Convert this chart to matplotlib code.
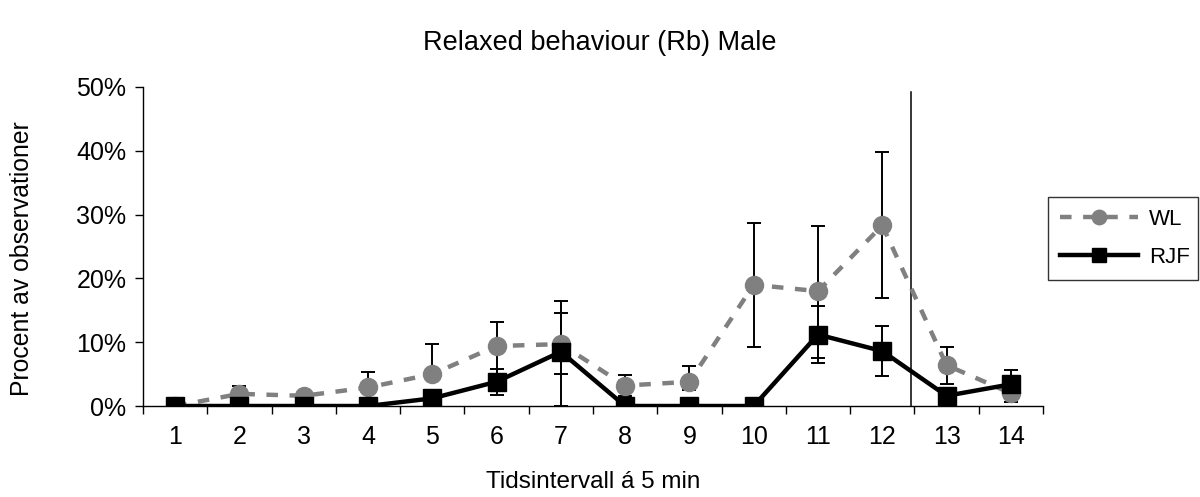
import matplotlib
matplotlib.use("Agg")
import matplotlib.pyplot as plt
from matplotlib.ticker import FuncFormatter, FixedLocator
import numpy as np

plt.rcParams['font.family'] = ['Liberation Sans', 'DejaVu Sans']

intervals = [1, 2, 3, 4, 5, 6, 7, 8, 9, 10, 11, 12, 13, 14]
tick_labels = [str(i) for i in intervals]

wl_mean = [0.0, 1.9, 1.6, 2.9, 5.0, 9.4, 9.7, 3.2, 3.8, 19.0, 18.0, 28.3, 6.4, 2.0]
wl_lo   = [0.0, 0.7, 0.4, 0.5, 0.3, 5.6, 9.7, 1.7, 1.3, 9.7, 10.4, 11.4, 2.9, 1.4]
wl_hi   = [0.0, 1.2, 0.3, 2.4, 4.7, 3.8, 6.8, 1.6, 2.5, 9.7, 10.2, 11.5, 2.9, 0.5]

rjf_mean = [0.0, 0.0, 0.0, 0.0, 1.2, 3.8, 8.5, 0.0, 0.0, 0.0, 11.2, 8.6, 1.6, 3.4]
rjf_lo   = [0.0, 0.0, 0.0, 0.0, 0.0, 2.1, 3.5, 0.0, 0.0, 0.0, 4.5, 3.9, 0.0, 2.7]
rjf_hi   = [0.0, 0.0, 0.0, 0.0, 0.0, 2.0, 6.0, 0.0, 0.0, 0.0, 4.5, 3.9, 0.0, 2.2]

divider_pos = 12.44
divider_top = 49.2

fig = plt.figure(figsize=(12, 4.97), dpi=100)
ax = fig.add_axes([143/1200, 1-406/497, 900/1200, 319/497])

x = np.array(intervals, dtype=float)

# error bars
ax.errorbar(x, wl_mean, yerr=[wl_lo, wl_hi], fmt='none', ecolor='black',
            elinewidth=1.4, capsize=5, capthick=1.4, zorder=2)
ax.errorbar(x, rjf_mean, yerr=[rjf_lo, rjf_hi], fmt='none', ecolor='black',
            elinewidth=1.4, capsize=5, capthick=1.4, zorder=2)

ax.plot(x, wl_mean, color='#808080', lw=3.2, dashes=(2.6, 2.6),
        marker='o', markersize=13, markerfacecolor='#808080',
        markeredgecolor='#808080', label='WL', zorder=3)
ax.plot(x, rjf_mean, color='black', lw=3.2,
        marker='s', markersize=12.5, markerfacecolor='black',
        markeredgecolor='black', label='RJF', zorder=4)

ax.plot([divider_pos, divider_pos], [0, divider_top], color='black', lw=1.1, zorder=1)

ax.set_xlim(0.5, 14.5)
ax.set_ylim(0, 50)
ax.set_yticks([0, 10, 20, 30, 40, 50])
ax.yaxis.set_major_formatter(FuncFormatter(lambda v, p: f"{int(round(v))}%"))
ax.set_xticks(x)
ax.set_xticklabels(tick_labels)
ax.xaxis.set_minor_locator(FixedLocator(np.arange(0.5, 15, 1.0)))
ax.tick_params(axis='x', which='major', length=0, pad=14, labelsize=18)
ax.tick_params(axis='x', which='minor', length=6, width=1, direction='out')
ax.tick_params(axis='y', length=6, width=1, direction='out', labelsize=18, pad=6)

for s in ['top', 'right']:
    ax.spines[s].set_visible(False)
for s in ['left', 'bottom']:
    ax.spines[s].set_linewidth(1)

fig.text(0.5, 1-43/497, 'Relaxed behaviour (Rb) Male', ha='center', va='center', fontsize=19.5)
fig.text(593/1200, 1-482/497, 'Tidsintervall á 5 min', ha='center', va='center', fontsize=17.5)
fig.text(22/1200, 1-259/497, 'Procent av observationer', ha='center', va='center',
         rotation=90, fontsize=17.8)

leg = ax.legend(loc='center', bbox_to_anchor=(1048/1200, 1-278/497, 150/1200, 79/497),
                bbox_transform=fig.transFigure, mode='expand', frameon=True, fancybox=False,
                edgecolor='black', fontsize=16, handlelength=3.5, borderaxespad=0,
                labelspacing=0.75, borderpad=0.55, handletextpad=0.5, markerscale=0.8)
leg.get_frame().set_linewidth(1)

fig.savefig('out.png', dpi=100)
